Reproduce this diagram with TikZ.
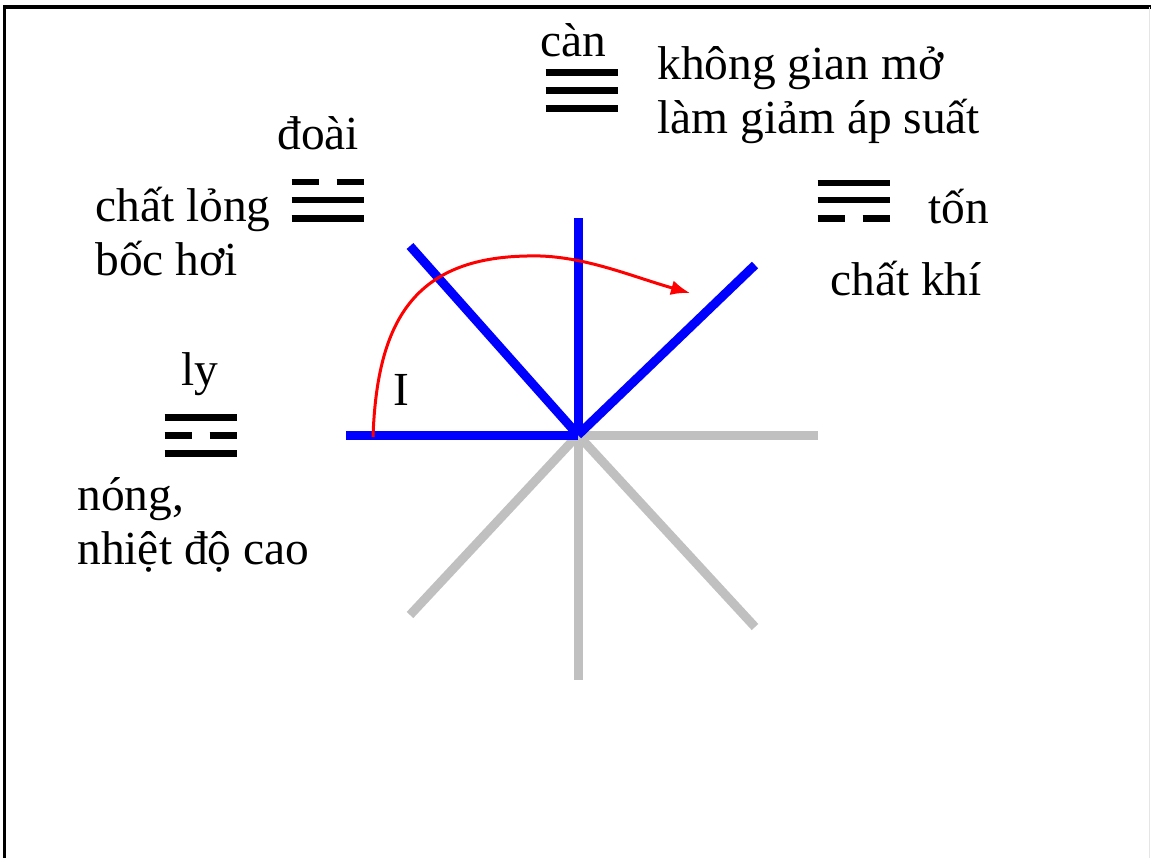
\documentclass[tikz,border=0pt]{standalone}
\usepackage{fontspec}
\setmainfont{Liberation Serif}
\usetikzlibrary{arrows.meta}

\definecolor{spokegrey}{RGB}{192,192,192}
\tikzset{
  txt/.style={font=\fontsize{27}{32}\selectfont, inner sep=0pt},
  bar/.style={line width=0.14cm},
  spoke/.style={line width=0.18cm, blue},
  greyspoke/.style={line width=0.18cm, spokegrey},
  yang/.pic={\draw[bar] (-36,0) -- (36,0);},
  yin/.pic={\draw[bar] (-36,0) -- (-9,0) (9,0) -- (36,0);},
}

\begin{document}
\begin{tikzpicture}[x=0.02cm, y=-0.02cm]
            \useasboundingbox (0,0) rectangle (1151,858);
            \draw[line width=0.08cm] (1151,7) -- (4.5,7) -- (4.5,858);
            \draw[line width=0.02cm, black!10] (1149,7) -- (1149,858);

            % spokes
            \coordinate (o) at (578,435);
            \coordinate (e) at (818,435);
            \coordinate (s) at (578,680);
            \coordinate (sw) at (410,615);
            \coordinate (se) at (755,627);
            \coordinate (w) at (346,435);
            \coordinate (nw) at (410,246);
            \coordinate (n) at (578,218);
            \coordinate (ne) at (755,265);
            \draw[greyspoke] (o) -- (e);
            \draw[greyspoke] (o) -- (s);
            \draw[greyspoke] (o) -- (sw);
            \draw[greyspoke] (o) -- (se);
            \draw[spoke] (o) -- (w);
            \draw[spoke] (o) -- (nw);
            \draw[spoke] (o) -- (n);
            \draw[spoke] (o) -- (ne);

            % path
            \coordinate (start) at (373,437);
            \coordinate (top) at (527,256);
            \coordinate (tip) at (690,293);
            \draw[red, line width=0.06cm, -{Latex[length=0.38cm, width=0.3cm]}]
                (start) .. controls (377,320) and (415,258) .. (top)
                .. controls (580,254) and (630,276) .. (tip);
            \node[txt, anchor=base] (sector) at (401,405) {I};

            % can
            \pic at (581.5,73) {yang};
            \pic at (581.5,91) {yang};
            \pic at (581.5,109) {yang};
            \node[txt, anchor=base] (can) at (573,57) {càn};
            \node[txt, anchor=base west] (canA) at (657,80) {không gian mở};
            \node[txt, anchor=base west] (canB) at (657,133) {làm giảm áp suất};

            % doai
            \pic at (327.5,182) {yin};
            \pic at (327.5,200) {yang};
            \pic at (327.5,218) {yang};
            \node[txt, anchor=base west] (doai) at (277,150) {đoài};
            \node[txt, anchor=base west] (doaiA) at (95,221) {chất lỏng};
            \node[txt, anchor=base west] (doaiB) at (95,275) {bốc hơi};

            % ton
            \pic at (853.5,183) {yang};
            \pic at (853.5,200) {yang};
            \pic at (853.5,218) {yin};
            \node[txt, anchor=base west] (ton) at (928,223) {tốn};
            \node[txt, anchor=base west] (tonA) at (830,295) {chất khí};

            % ly
            \pic at (200.5,417) {yang};
            \pic at (200.5,435) {yin};
            \pic at (200.5,453) {yang};
            \node[txt, anchor=base] (ly) at (200,385) {ly};
            \node[txt, anchor=base west] (lyA) at (77,510) {nóng,};
            \node[txt, anchor=base west] (lyB) at (77,564) {nhiệt độ cao};
        \end{tikzpicture}
\end{document}
